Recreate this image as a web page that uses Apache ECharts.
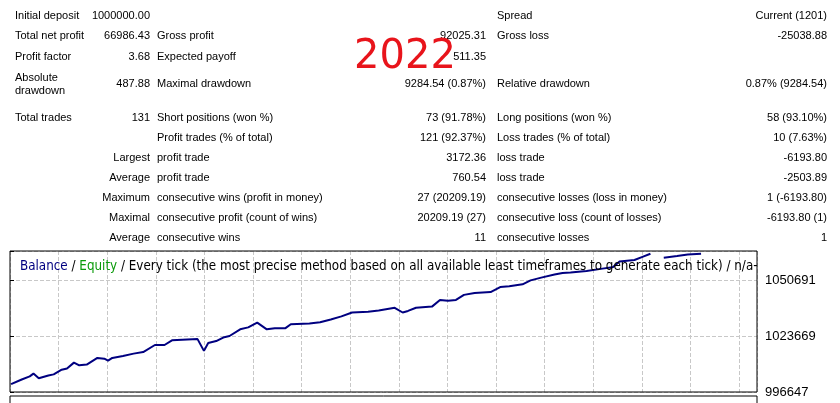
<!DOCTYPE html>
<html><head><meta charset="utf-8">
<script src="https://cdn.jsdelivr.net/npm/echarts@6/dist/echarts.min.js"></script>
<style>html,body{margin:0;background:#fff}#main{width:840px;height:403px}</style>
</head><body><div id="main"></div>
<script>
// balance curve, x in tester-chart units, y in account currency
const balX = [30,50,65,72,82,100,110,125,135,148,158,172,192,205,212,220,240,260,278,300,318,332,380,392,400,415,430,440,460,475,492,510,525,545,555,590,610,630,650,670,700,720,750,765,775,790,820,835,850,865,880,900,930,948,965,990,1005,1025,1050,1065,1080,1110,1140,1155,1160,1172,1200,1215,1230,1240,1255,1280,1300,1325];
const balY = [1000430,1002695,1004207,1005530,1003262,1004585,1005152,1007420,1007987,1010822,1009499,1009877,1013090,1012712,1011767,1013090,1014035,1015169,1015925,1019327,1019327,1021595,1022162,1016492,1020272,1021217,1023107,1023674,1026887,1027832,1030100,1026887,1027454,1027454,1029344,1029722,1030289,1031612,1033124,1035014,1035392,1035959,1037282,1035014,1035770,1037282,1037849,1041062,1040684,1041062,1043519,1044464,1044842,1047299,1047677,1048622,1050512,1051835,1053347,1054103,1054292,1055048,1056182,1056749,1056938,1059584,1060340,1061852,1063364,null,1061474,1062230,1062986,1063364];
const yTicks = [996647, 1023669, 1050691];

const rows = [
  ['Initial deposit','1000000.00','','','Spread','Current (1201)'],
  ['Total net profit','66986.43','Gross profit','92025.31','Gross loss','-25038.88'],
  ['Profit factor','3.68','Expected payoff','511.35','',''],
  ['Absolute\ndrawdown','487.88','Maximal drawdown','9284.54 (0.87%)','Relative drawdown','0.87% (9284.54)'],
  ['Total trades','131','Short positions (won %)','73 (91.78%)','Long positions (won %)','58 (93.10%)'],
  ['','','Profit trades (% of total)','121 (92.37%)','Loss trades (% of total)','10 (7.63%)'],
  ['>Largest','','profit trade','3172.36','loss trade','-6193.80'],
  ['>Average','','profit trade','760.54','loss trade','-2503.89'],
  ['>Maximum','','consecutive wins (profit in money)','27 (20209.19)','consecutive losses (loss in money)','1 (-6193.80)'],
  ['>Maximal','','consecutive profit (count of wins)','20209.19 (27)','consecutive loss (count of losses)','-6193.80 (1)'],
  ['>Average','','consecutive wins','11','consecutive losses','1']
];
const rowY = [16,36,57,84,118,138,158,178,198,218,238];

const F = 'Liberation Sans';
const graphic = [];
rows.forEach((r, i) => {
  const y = rowY[i];
  const t = (x, s, align) => { if (s) graphic.push({type:'text', x, y, style:{text:s, font:'11px "' + F + '"', fill:'#000', align, verticalAlign:'middle', lineHeight:13}}); };
  if (r[0].startsWith('>')) t(150, r[0].slice(1), 'right'); else t(15, r[0], 'left');
  t(150, r[1], 'right'); t(157, r[2], 'left'); t(486, r[3], 'right');
  t(497, r[4], 'left'); t(827, r[5], 'right');
});
graphic.push({type:'text', x:405, y:58, style:{text:'2022', font:'40px "DejaVu Sans"', fill:'#e8141b', align:'center', verticalAlign:'middle'}});
graphic.push({type:'rect', shape:{x:10, y:251, width:747, height:141}, style:{fill:'none', stroke:'#000', lineWidth:1}, z:10});
graphic.push({type:'rect', shape:{x:10, y:396, width:747, height:12}, style:{fill:'none', stroke:'#000', lineWidth:1}, z:10});
graphic.push({type:'text', x:20, y:267, z:11, style:{
  rich:{b:{fill:'#000080'}, e:{fill:'#0a9a0a'}, k:{fill:'#000'}},
  text:'{b|Balance}{k| / }{e|Equity}{k| / Every tick (the most precise method based on all available least timeframes to generate each tick) / n/a-}',
  font:'13.3px "Liberation Sans Narrow", "DejaVu Sans Condensed", "Liberation Sans"', verticalAlign:'middle'}});

const chart = echarts.init(document.getElementById('main'));
chart.setOption({
  animation: false,
  graphic,
  grid: {left:10, right:83, top:251, bottom:11},
  xAxis: [
    {type:'value', min:28, max:1430, show:false},
    {type:'value', min:0, max:747, interval:48.6, axisLine:{show:false}, axisTick:{show:false}, axisLabel:{show:false},
     splitLine:{show:true, lineStyle:{color:'#c8c8c8', type:'dashed'}}}
  ],
  yAxis: {type:'value', position:'right', min:996647, max:1064683, interval:27022,
    axisLine:{show:false}, axisTick:{show:true, length:4, lineStyle:{color:'#000'}},
    axisLabel:{color:'#000', fontSize:13, fontFamily:F, margin:8,
      formatter: v => yTicks.includes(Math.round(v)) ? String(Math.round(v)) : ''},
    splitLine:{show:true, lineStyle:{color:'#c8c8c8', type:'dashed'}}},
  series: [{type:'line', xAxisIndex:0, data: balX.map((x, i) => [x, balY[i]]), showSymbol:false,
    connectNulls:false, lineStyle:{color:'#000080', width:2}, itemStyle:{color:'#000080'}}]
});
</script></body></html>
